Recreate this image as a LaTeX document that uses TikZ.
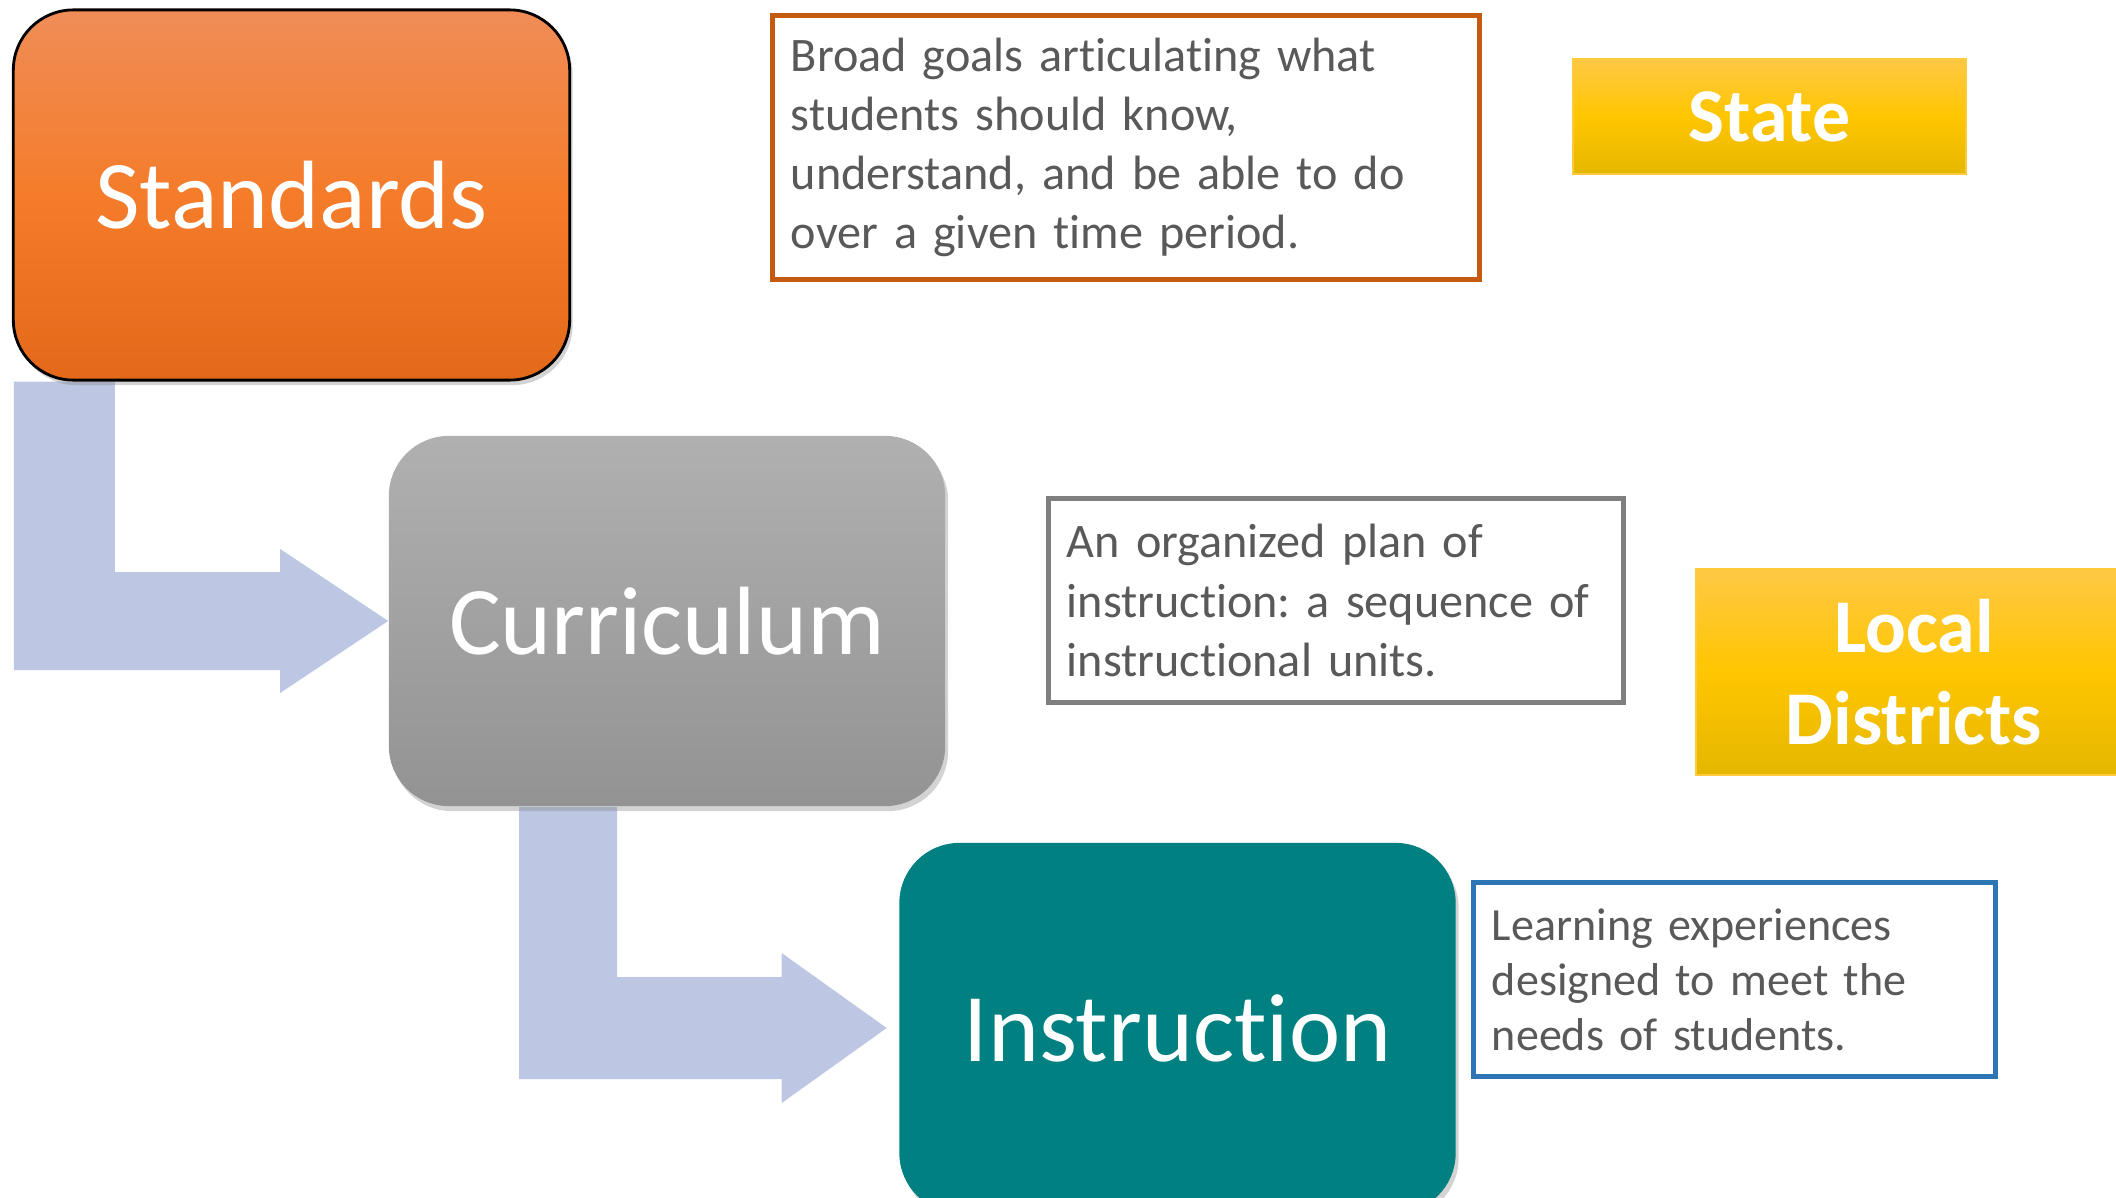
\documentclass[tikz,border=0pt]{standalone}
\usepackage{fontspec}
\setmainfont{Carlito}[Ligatures=NoCommon]
\frenchspacing
\usetikzlibrary{shadows}
\usetikzlibrary{positioning}
\usetikzlibrary{calc,backgrounds}
\definecolor{stdtop}{HTML}{F08D57}
\definecolor{stdmid}{HTML}{F47C2A}
\definecolor{stdbot}{HTML}{E3691A}
\definecolor{curtop}{HTML}{B0B0B0}
\definecolor{curbot}{HTML}{939393}
\definecolor{teal}{HTML}{008080}
\definecolor{goldtop}{HTML}{FFC845}
\definecolor{goldmid}{HTML}{FFC600}
\definecolor{goldbot}{HTML}{E5B700}
\definecolor{goldline}{HTML}{FFCB3A}
\definecolor{flowblue}{HTML}{BDC7E3}
\definecolor{notetext}{HTML}{595959}
\definecolor{noteorange}{HTML}{C55A11}
\definecolor{notegray}{HTML}{7F7F7F}
\definecolor{noteblue}{HTML}{2E75B6}
\tikzstyle{stagebox}=[rectangle,rounded corners=0.6cm,minimum width=5.56cm,minimum height=3.7cm,text=white,font=\fontsize{27.6}{33}\selectfont,drop shadow={shadow xshift=0.03cm,shadow yshift=-0.05cm,opacity=0.35}]
\tikzstyle{stdlook}=[draw=black,line width=0.8pt,top color=stdtop,bottom color=stdbot,middle color=stdmid]
\tikzstyle{curlook}=[top color=curtop,bottom color=curbot]
\tikzstyle{inslook}=[fill=teal]
\tikzstyle{notebox}=[rectangle,draw,line width=1.4pt,fill=white,text=notetext,align=left,inner xsep=0.18cm,font=\fontsize{13.7}{16.8}\selectfont]
\tikzstyle{levelbox}=[rectangle,draw=goldline,line width=0.5pt,top color=goldtop,bottom color=goldbot,middle color=goldmid,text=white,align=center,font=\bfseries\fontsize{21.6}{26.2}\selectfont]
\tikzstyle{flowarrow}=[fill=flowblue]

\begin{document}
\begin{tikzpicture}[x=0.01cm,y=-0.01cm]
\useasboundingbox (0,0) rectangle (2116,1197);
\clip (0,0) rectangle (2116,1197);

    % the three stages
    \foreach \pos/\name/\label/\look in {{(291.5,195)/std/Standards/stdlook}, {(667,621)/cur/Curriculum/curlook}, {(1177.5,1028)/ins/Instruction/inslook}}
        \node[stagebox,\look] (\name) at \pos {\label};

    % what each stage means
    \node[notebox,draw=noteorange,minimum height=2.63cm,text width=6.70cm] (stdnote) at (1126,147.5)
        {Broad goals articulating what\\ students should know,\\ understand, and be able to do\\ over a given time period.};
    \node[notebox,draw=notegray,minimum height=2.03cm,text width=5.38cm] (curnote) at (1336,600.5)
        {An organized plan of\\ instruction: a sequence of\\ instructional units.};
    \node[notebox,draw=noteblue,minimum height=1.93cm,text width=4.85cm,font=\fontsize{13.1}{15.6}\selectfont] (insnote) at (1734.5,979.5)
        {Learning experiences\\ designed to meet the\\ needs of students.};

    % who decides
    \node[levelbox,minimum width=3.93cm,minimum height=1.15cm] (state) at (1769.5,116.5) {State};
    \node[levelbox,minimum width=4.36cm,minimum height=2.06cm] (local) at (1914,672) {Local\\ Districts};

    % bent arrows between the stages
    \begin{scope}[on background layer]
    \fill[flowarrow] ($(std.south west)+(2,0)$) coordinate (a1) -- ++(101,0) |- ($(cur.west)+(-108,-49)$)
        -- ++(0,-23) -- (cur.west) -- ++(-108,72) -- ++(0,-23) -| (a1) -- cycle;
    \coordinate (t2) at ($(ins.west)+(-12,0)$);
    \fill[flowarrow] ($(cur.south west)+(131,0)$) coordinate (a2) -- ++(98,0) |- ($(t2)+(-105,-51)$)
        -- ++(0,-24) -- (t2) -- ++(-105,75) -- ++(0,-24) -| (a2) -- cycle;
    \end{scope}

\end{tikzpicture}
\end{document}
